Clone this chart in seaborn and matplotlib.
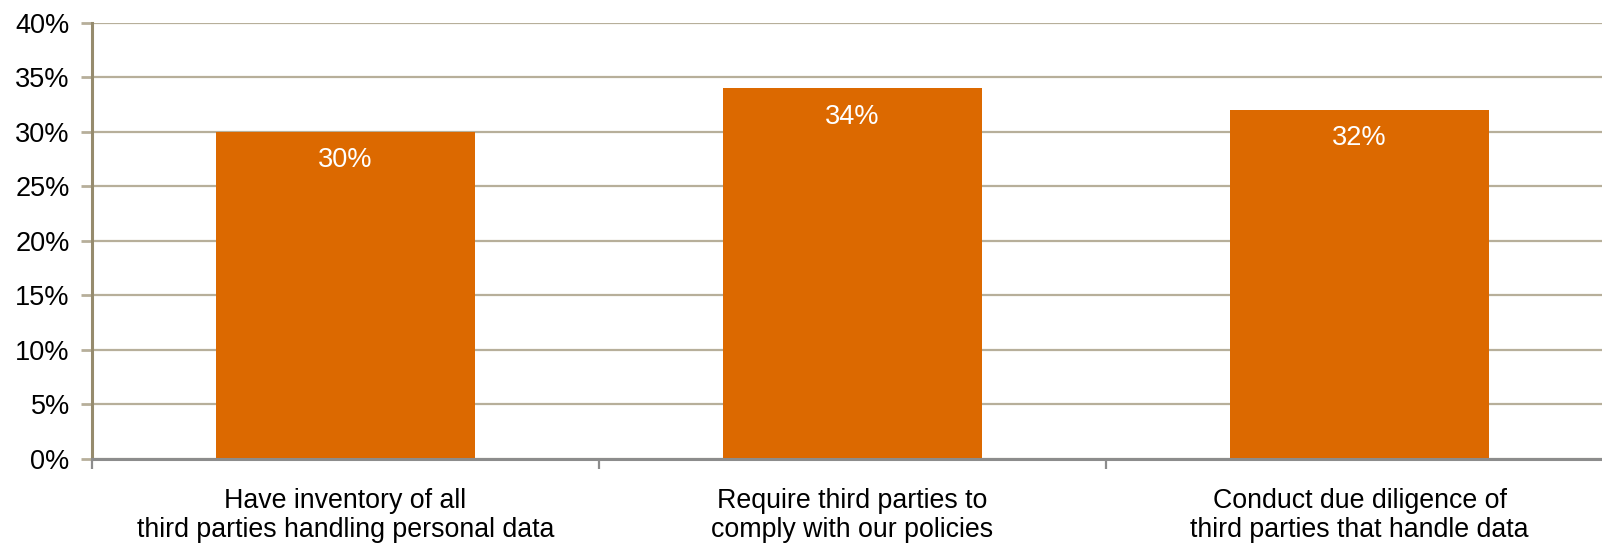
import matplotlib
matplotlib.use("Agg")
import matplotlib.pyplot as plt
from matplotlib.ticker import FixedLocator, PercentFormatter
import seaborn as sns
import pandas as pd

categories = [
    "Have inventory of all\nthird parties handling personal data",
    "Require third parties to\ncomply with our policies",
    "Conduct due diligence of\nthird parties that handle data",
]
values = [30, 34, 32]
y_ticks = [0, 5, 10, 15, 20, 25, 30, 35, 40]

BAR = "#DC6900"
GRID = "#B7AF9A"
SPINE_Y = "#968B6D"
SPINE_X = "#8C8C8C"

sns.set_theme(style="white")
plt.rcParams["font.family"] = ["Liberation Sans", "DejaVu Sans"]

df = pd.DataFrame({"category": categories, "value": values})

fig = plt.figure(figsize=(16.02, 5.45), dpi=100)
ax = fig.add_axes([0.0574, 0.1584, 0.9495, 0.8003])

sns.barplot(data=df, x="category", y="value", color=BAR, saturation=1,
            width=0.51, linewidth=0, edgecolor="none", ax=ax, zorder=3)

ax.set_xlim(-0.5, len(categories) - 0.5)
ax.set_ylim(0, 40)
ax.set_yticks(y_ticks)
ax.yaxis.set_major_formatter(PercentFormatter(decimals=0))
ax.grid(axis="y", color=GRID, linewidth=1.6, zorder=0)
ax.grid(axis="x", visible=False)
ax.set_axisbelow(True)

for s in ["top", "right"]:
    ax.spines[s].set_visible(False)
ax.spines["left"].set_color(SPINE_Y)
ax.spines["left"].set_linewidth(2.2)
ax.spines["left"].set_zorder(4)
ax.spines["bottom"].set_color(SPINE_X)
ax.spines["bottom"].set_linewidth(2.2)
ax.spines["bottom"].set_zorder(4)

ax.tick_params(axis="y", which="major", direction="out", length=8, width=2,
               color=GRID, labelsize=19.5, labelcolor="black", pad=8, left=True)
ax.tick_params(axis="x", which="major", length=0, labelsize=19.3,
               labelcolor="black", pad=21)
ax.xaxis.set_minor_locator(FixedLocator([i - 0.5 for i in range(len(categories) + 1)]))
ax.tick_params(axis="x", which="minor", direction="out", length=7, width=1.6,
               color=SPINE_X, bottom=True)
for lab in ax.get_xticklabels():
    lab.set_linespacing(1.15)

ax.set_xlabel("")
ax.set_ylabel("")

for container in ax.containers:
    ax.bar_label(container, labels=[f"{v}%" for v in values], label_type="edge",
                 padding=-30, color="white", fontsize=19.5, zorder=5)

fig.savefig("out.png", dpi=100)
